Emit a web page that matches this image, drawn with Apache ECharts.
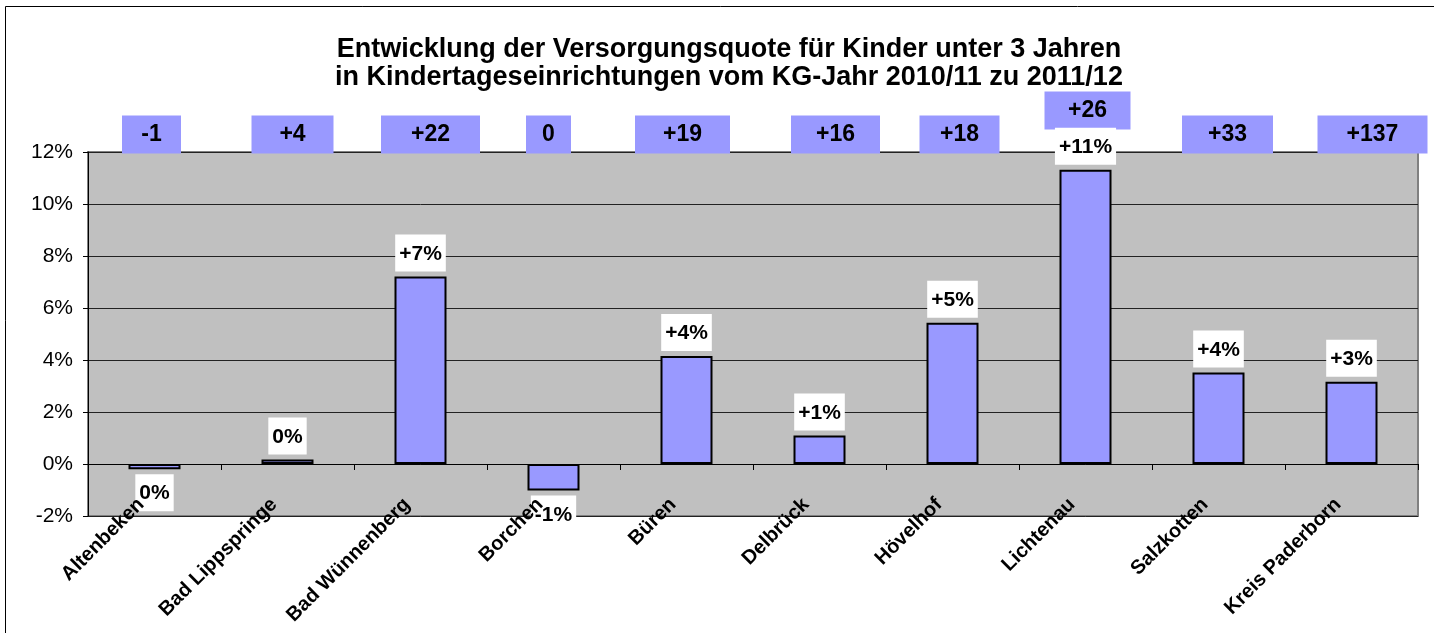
<!DOCTYPE html>
<html>
<head>
<meta charset="utf-8">
<script src="https://cdn.jsdelivr.net/npm/echarts@6/dist/echarts.min.js"></script>
<style>
html, body { margin: 0; padding: 0; background: #fff; }
#mychart { width: 1434px; height: 633px; }
</style>
</head>
<body>
<div id="mychart"></div>
<script>
// Daten
const categories = ['Altenbeken', 'Bad Lippspringe', 'Bad Wünnenberg', 'Borchen', 'Büren', 'Delbrück', 'Hövelhof', 'Lichtenau', 'Salzkotten', 'Kreis Paderborn']
const quoteChange = [-0.2, 0.17, 7.21, -1.02, 4.15, 1.1, 5.43, 11.32, 3.52, 3.16]
const placeChange = ['-1', '+4', '+22', '0', '+19', '+16', '+18', '+26', '+33', '+137']
const yMin = -2
const yMax = 12
const yStep = 2

// Kastenbreiten / Versatz der Platz-Kaesten oben
const boxWidth = [59, 82, 99, 45, 95, 89, 80, 86, 91, 110]
const boxShift = [-3, 5, 10, -5, -4, 16, 7, 2, 9, 21]
const boxLift = [0, 0, 0, 0, 0, 0, 0, 24, 0, 0]

const font = 'Liberation Sans, Arial, sans-serif'

const rich = {}
placeChange.forEach((v, i) => {
  rich['b' + i] = {
    width: boxWidth[i],
    padding: [8, 0, 7, 0],
    lineHeight: 23,
    align: 'center',
    backgroundColor: '#9999FF',
    fontSize: 23,
    fontWeight: 'bold',
    fontFamily: font,
    color: '#000'
  }
  rich['s' + i] = { width: Math.abs(boxShift[i]) * 2, fontSize: 10 }
  rich['g' + i] = { height: boxLift[i], lineHeight: boxLift[i], fontSize: 10 }
})

const barData = quoteChange.map(v => {
  return v < 0 ? { value: v, label: { position: 'bottom' } } : v
})

const option = {
  animation: false,
  backgroundColor: '#fff',
  title: {
    text: 'Entwicklung der Versorgungsquote für Kinder unter 3 Jahren\nin Kindertageseinrichtungen vom KG-Jahr 2010/11 zu 2011/12',
    left: 724,
    top: 31,
    textAlign: 'center',
    textStyle: {
      fontFamily: font,
      fontSize: 27,
      fontWeight: 'bold',
      lineHeight: 28,
      color: '#000'
    }
  },
  graphic: [{
    type: 'rect',
    shape: { x: 5.5, y: 6.5, width: 1500, height: 700 },
    style: { fill: 'none', stroke: '#000', lineWidth: 1 },
    silent: true
  }],
  grid: {
    left: 88,
    top: 152,
    right: 16,
    bottom: 117,
    outerBoundsMode: 'none',
    containLabel: false,
    show: true,
    backgroundColor: '#C0C0C0',
    borderColor: '#808080',
    borderWidth: 2
  },
  xAxis: [{
    type: 'category',
    data: categories,
    z: 10,
    axisLine: { onZero: true, lineStyle: { color: '#000', width: 1 } },
    axisTick: { show: true, length: 6, lineStyle: { color: '#000' } },
    axisLabel: {
      interval: 0,
      rotate: 45,
      margin: -28,
      padding: [0, 19, 0, 0],
      fontFamily: font,
      fontSize: 20,
      fontWeight: 'bold',
      color: '#000'
    }
  }, {
    type: 'category',
    position: 'top',
    data: placeChange,
    axisLine: { show: false, onZero: false },
    axisTick: { show: false },
    axisLabel: {
      interval: 0,
      margin: 6,
      formatter: function(v, i) {
        const s = '{s' + i + '| }'
        const b = '{b' + i + '|' + v + '}'
        let line = boxShift[i] >= 0 ? s + b : b + s
        if (boxLift[i]) line += '\n{g' + i + '| }'
        return line
      },
      rich: rich
    }
  }],
  yAxis: {
    type: 'value',
    min: yMin,
    max: yMax,
    interval: yStep,
    axisLine: { show: true, lineStyle: { color: '#000' } },
    axisTick: { show: true, length: 5, lineStyle: { color: '#000' } },
    splitLine: { show: true, lineStyle: { color: '#222', width: 1 } },
    axisLabel: {
      formatter: '{value}%',
      margin: 15,
      fontFamily: font,
      fontSize: 21,
      color: '#000'
    }
  },
  series: [{
    type: 'bar',
    xAxisIndex: 0,
    barWidth: 52,
    itemStyle: {
      color: '#9999FF',
      borderColor: '#000',
      borderWidth: 2
    },
    label: {
      show: true,
      position: 'top',
      distance: 5,
      formatter: function(p) {
        const r = Math.round(p.value)
        return (r > 0 ? '+' : '') + (r === 0 ? 0 : r) + '%'
      },
      fontFamily: font,
      fontSize: 21,
      fontWeight: 'bold',
      color: '#000',
      backgroundColor: '#fff',
      padding: [9, 4, 7, 4]
    },
    data: barData
  }]
}

const myChart = echarts.init(document.getElementById('mychart'))
myChart.setOption(option)
</script>
</body>
</html>
